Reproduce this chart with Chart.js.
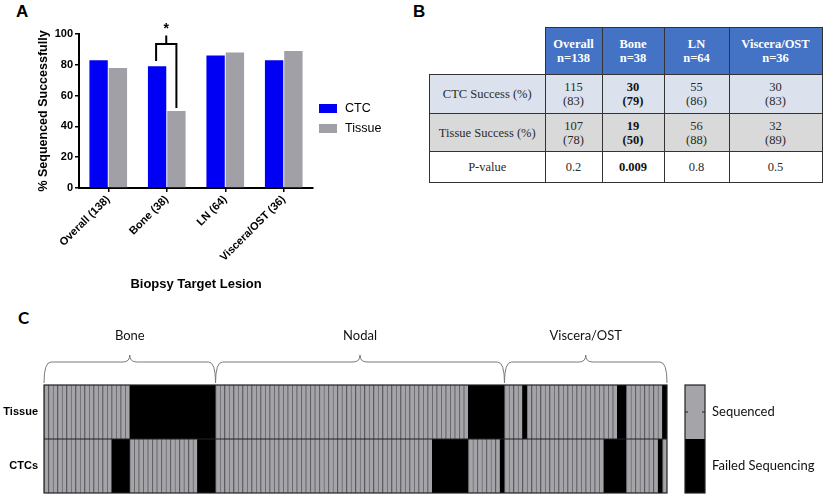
<!DOCTYPE html>
<html>
<head>
<meta charset="utf-8">
<script src="https://cdn.jsdelivr.net/npm/chart.js@4.4.1/dist/chart.umd.min.js"></script>
<style>
body { margin: 0; background: #fff; width: 825px; height: 497px; position: relative; overflow: hidden; font-family: "Liberation Sans", Arial, sans-serif; }
.panel { position: absolute; font-weight: bold; color: #000; }
#chartA { position: absolute; left: 0; top: 0; }
#chartC { position: absolute; left: 0; top: 300px; }
table { position: absolute; left: 429px; top: 27px; border-collapse: collapse; font-family: "Liberation Serif", "Times New Roman", serif; font-size: 12.5px; color: #2a2a2a; }
td, th { border: 1px solid #333; text-align: center; padding: 0; line-height: 14px; }
th { background: #4472c4; color: #fff; font-weight: bold; height: 46px; }
th.blank { background: #fff; border: none; }
tr.ctc td { background: #dbe2ee; height: 38px; }
tr.tis td { background: #d9d9d9; height: 37px; }
tr.pv td { background: #fff; height: 30px; }
td b { color: #111; }
</style>
</head>
<body>
<div class="panel" style="left:16px;top:2px;font-size:17px;">A</div>
<div class="panel" style="left:413px;top:2px;font-size:17px;">B</div>
<div class="panel" style="left:18px;top:307px;font-size:17px;font-family:Lato,'Open Sans',sans-serif;">C</div>

<canvas id="chartA" width="410" height="300"></canvas>

<table id="tableB">
  <tr>
    <th class="blank" style="width:115px;"></th>
    <th style="width:56px;">Overall<br>n=138</th>
    <th style="width:61px;">Bone<br>n=38</th>
    <th style="width:64px;">LN<br>n=64</th>
    <th style="width:92px;">Viscera/OST<br>n=36</th>
  </tr>
</table>

<canvas id="chartC" width="825" height="197"></canvas>

<script>
// ---- panel A data ----
const categories = ['Overall (138)', 'Bone (38)', 'LN (64)', 'Viscera/OST (36)'];
const ctcSuccess = [83, 79, 86, 83];
const tissueSuccess = [78, 50, 88, 89];
const yTicks = [0, 20, 40, 60, 80, 100];

// ---- panel B data ----
const tableCols = ['Overall', 'Bone', 'LN', 'Viscera/OST'];
const ctcCounts = [115, 30, 55, 30];
const ctcPct = [83, 79, 86, 83];
const tissueCounts = [107, 19, 56, 32];
const tissuePct = [78, 50, 88, 89];
const pValues = ['0.2', '0.009', '0.8', '0.5'];
const boldCol = 1;

// ---- panel C data (runs of [sequenced?, count]) ----
const groups = ['Bone', 'Nodal', 'Viscera/OST'];
const groupSizes = [38, 64, 36];
const tissueRuns = [[1, 19], [0, 19], [1, 56], [0, 8], [1, 4], [0, 1], [1, 20], [0, 2], [1, 8], [0, 1]];
const ctcRuns = [[1, 15], [0, 4], [1, 15], [0, 4], [1, 48], [0, 8], [1, 7], [0, 1], [1, 22], [0, 5], [1, 7], [0, 1], [1, 1]];

// fill the table
const tbl = document.getElementById('tableB');
function addRow(cls, label, cells) {
    const tr = document.createElement('tr');
    tr.className = cls;
    let html = `<td>${label}</td>`;
    cells.forEach((c, i) => {
        html += i === boldCol ? `<td><b>${c}</b></td>` : `<td>${c}</td>`;
    });
    tr.innerHTML = html;
    tbl.appendChild(tr);
}
addRow('ctc', 'CTC Success (%)', ctcCounts.map((n, i) => `${n}<br>(${ctcPct[i]})`));
addRow('tis', 'Tissue Success (%)', tissueCounts.map((n, i) => `${n}<br>(${tissuePct[i]})`));
addRow('pv', 'P-value', pValues);

// ---- chart A ----
const boldFont = { family: '"Liberation Sans", Arial, sans-serif', weight: 'bold', size: 11 };

const bracketPlugin = {
    id: 'bracket',
    afterDatasetsDraw(chart) {
        const ctx = chart.ctx;
        const y = chart.scales.y;
        const ctcBar = chart.getDatasetMeta(0).data[1];
        const tisBar = chart.getDatasetMeta(1).data[1];
        const xl = ctcBar.x - 1, xr = tisBar.x;
        const xm = (xl + xr) / 2;
        const top = y.getPixelForValue(93.5);
        ctx.save();
        ctx.strokeStyle = '#000';
        ctx.lineWidth = 2;
        ctx.beginPath();
        ctx.moveTo(xl, y.getPixelForValue(82.5));
        ctx.lineTo(xl, top);
        ctx.lineTo(xr, top);
        ctx.lineTo(xr, y.getPixelForValue(52));
        ctx.moveTo(xm, top);
        ctx.lineTo(xm, y.getPixelForValue(99));
        ctx.stroke();
        ctx.fillStyle = '#000';
        ctx.font = 'bold 14px "Liberation Sans", Arial, sans-serif';
        ctx.textAlign = 'center';
        ctx.textBaseline = 'middle';
        ctx.fillText('*', xm, y.getPixelForValue(103));

        // legend
        const lx = chart.chartArea.right + 6;
        chart.data.datasets.forEach((ds, i) => {
            const ly = 104 + i * 20;
            ctx.fillStyle = ds.backgroundColor;
            ctx.fillRect(lx, ly, 18, 9);
            ctx.fillStyle = '#000';
            ctx.font = '12.5px "Liberation Sans", Arial, sans-serif';
            ctx.textAlign = 'left';
            ctx.fillText(ds.label, lx + 26, ly + 4.5);
        });
        ctx.restore();
    }
};

new Chart(document.getElementById('chartA'), {
    type: 'bar',
    data: {
        labels: categories,
        datasets: [
            { label: 'CTC', data: ctcSuccess, backgroundColor: '#0000f5' },
            { label: 'Tissue', data: tissueSuccess, backgroundColor: '#a0a0a6' }
        ]
    },
    options: {
        responsive: false,
        animation: false,
        layout: { padding: { left: 36, top: 34, right: 97, bottom: 0 } },
        categoryPercentage: 0.66,
        barPercentage: 0.95,
        plugins: { legend: { display: false }, tooltip: { enabled: false } },
        scales: {
            x: {
                afterFit(scale) { scale.height = 112; },
                grid: { display: true, drawOnChartArea: false, offset: false, tickLength: 4, color: '#000', lineWidth: 1.5 },
                border: { color: '#000', width: 2 },
                ticks: { color: '#000', font: boldFont, minRotation: 45, maxRotation: 45, padding: 1 },
                title: { display: true, text: 'Biopsy Target Lesion', color: '#000', font: { family: boldFont.family, weight: 'bold', size: 13 }, padding: { top: 4, bottom: 8 } }
            },
            y: {
                min: 0,
                max: 100,
                afterFit(scale) { scale.width = 43; },
                afterBuildTicks(scale) { scale.ticks = yTicks.map(v => ({ value: v })); },
                grid: { display: true, drawOnChartArea: false, tickLength: 4, color: '#000', lineWidth: 1.5 },
                border: { color: '#000', width: 2 },
                ticks: { color: '#000', font: boldFont, padding: 2 },
                title: { display: true, text: '% Sequenced Successfully', color: '#000', font: { family: boldFont.family, weight: 'bold', size: 12.5 }, padding: { top: 0, bottom: 4 } }
            }
        }
    },
    plugins: [bracketPlugin]
});

// ---- chart C ----
function expand(runs) {
    const out = [];
    runs.forEach(([v, n]) => { for (let i = 0; i < n; i++) out.push(v); });
    return out;
}
const tissueStatus = expand(tissueRuns);
const ctcStatus = expand(ctcRuns);
const colLabels = tissueStatus.map((_, i) => i + 1);

const GRAY = '#a4a4a9';
const STRIPE = '#69696e';
const fillOf = s => s ? GRAY : '#000';
const lineOf = s => s ? STRIPE : '#000';

const heatPlugin = {
    id: 'heatDecor',
    beforeDatasetsDraw(chart) {
        // dark backing so seams between adjacent cells do not show
        const a = chart.chartArea;
        chart.ctx.save();
        chart.ctx.fillStyle = '#000';
        chart.ctx.fillRect(a.left, a.top, a.right - a.left, a.bottom - a.top);
        chart.ctx.restore();
    },
    afterDatasetsDraw(chart) {
        const ctx = chart.ctx;
        const a = chart.chartArea;
        const colW = (a.right - a.left) / colLabels.length;
        const midY = chart.scales.y.getPixelForValue(1);
        ctx.save();
        // frame and row separator
        ctx.strokeStyle = '#222';
        ctx.lineWidth = 1.2;
        ctx.strokeRect(a.left, a.top, a.right - a.left, a.bottom - a.top);
        ctx.beginPath();
        ctx.moveTo(a.left, midY);
        ctx.lineTo(a.right, midY);
        ctx.stroke();

        // braces and group names
        let start = 0;
        ctx.strokeStyle = '#7a7a7a';
        ctx.lineWidth = 1;
        groups.forEach((g, i) => {
            const x1 = a.left + start * colW;
            const x2 = a.left + (start + groupSizes[i]) * colW;
            const xm = (x1 + x2) / 2;
            const yTip = a.top - 2, yLine = a.top - 23, yCusp = a.top - 30, r = 7;
            ctx.beginPath();
            ctx.moveTo(x1, yTip);
            ctx.quadraticCurveTo(x1, yLine, x1 + r, yLine);
            ctx.lineTo(xm - r, yLine);
            ctx.quadraticCurveTo(xm, yLine, xm, yCusp);
            ctx.quadraticCurveTo(xm, yLine, xm + r, yLine);
            ctx.lineTo(x2 - r, yLine);
            ctx.quadraticCurveTo(x2, yLine, x2, yTip);
            ctx.stroke();
            ctx.fillStyle = '#111';
            ctx.font = '13px Lato, "Open Sans", sans-serif';
            ctx.textAlign = 'center';
            ctx.textBaseline = 'middle';
            ctx.fillText(g, xm, a.top - 49);
            start += groupSizes[i];
        });

        // row labels
        ctx.fillStyle = '#000';
        ctx.font = 'bold 11px "Liberation Sans", Arial, sans-serif';
        ctx.textAlign = 'right';
        ctx.fillText(chart.data.datasets[1].label, a.left - 6, (a.top + midY) / 2);
        ctx.fillText(chart.data.datasets[0].label, a.left - 6, (midY + a.bottom) / 2);

        // legend bar
        const lx = a.right + 18, lw = 20;
        ctx.fillStyle = GRAY;
        ctx.fillRect(lx, a.top, lw, midY - a.top);
        ctx.fillStyle = '#000';
        ctx.fillRect(lx, midY, lw, a.bottom - midY);
        ctx.strokeStyle = '#222';
        ctx.lineWidth = 1.2;
        ctx.strokeRect(lx, a.top, lw, a.bottom - a.top);
        const ty = (a.top + midY) / 2;
        ctx.beginPath();
        ctx.moveTo(lx, ty); ctx.lineTo(lx + 3, ty);
        ctx.moveTo(lx + lw - 3, ty); ctx.lineTo(lx + lw, ty);
        ctx.stroke();
        ctx.fillStyle = '#111';
        ctx.font = '13px Lato, "Open Sans", sans-serif';
        ctx.textAlign = 'left';
        ctx.fillText('Sequenced', lx + lw + 7, ty);
        ctx.fillText('Failed Sequencing', lx + lw + 7, (midY + a.bottom) / 2);
        ctx.restore();
    }
};

new Chart(document.getElementById('chartC'), {
    type: 'bar',
    data: {
        labels: colLabels,
        datasets: [
            {
                label: 'CTCs',
                data: ctcStatus.map(() => 1),
                backgroundColor: ctcStatus.map(fillOf),
                borderColor: ctcStatus.map(lineOf)
            },
            {
                label: 'Tissue',
                data: tissueStatus.map(() => 1),
                backgroundColor: tissueStatus.map(fillOf),
                borderColor: tissueStatus.map(lineOf)
            }
        ]
    },
    options: {
        responsive: false,
        animation: false,
        layout: { padding: { left: 44, right: 158, top: 85, bottom: 4 } },
        categoryPercentage: 1,
        barPercentage: 1,
        datasets: { bar: { borderWidth: { left: 1, right: 0, top: 0, bottom: 0 }, borderSkipped: false, inflateAmount: 0.3 } },
        plugins: { legend: { display: false }, tooltip: { enabled: false } },
        scales: {
            x: { stacked: true, display: false },
            y: { stacked: true, display: false, min: 0, max: 2 }
        }
    },
    plugins: [heatPlugin]
});
</script>
</body>
</html>
